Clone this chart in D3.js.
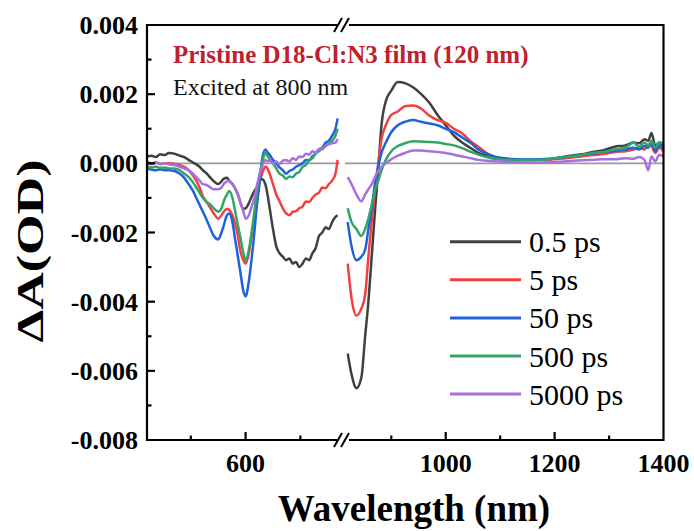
<!DOCTYPE html>
<html><head><meta charset="utf-8">
<script src="https://cdn.jsdelivr.net/npm/d3@7"></script>
<style>body{margin:0;background:#fff}svg{display:block}</style>
</head><body>
<svg id="c" width="694" height="531"></svg>
<script>
// ---- data ----
const seriesNames = ["0.5 ps","5 ps","50 ps","500 ps","5000 ps"];
const seriesColors = ["#404040","#f2403f","#1e63dc","#33a468","#a96fe0"];
const wlLeft = [510,514,518,522,526,530,535,540,544,548,552,555,558,561,564,568,571,575,578,580,583,585,588,590,593,595,598,600,603,605,608,610,613,615,618,620,622,625,628,631,634,637,640,643,646,649,652,655,658,661,664,667,670,673,676,679,682,684];
const s05Left   = [0.0002,0.00022,0.00018,0.00026,0.00024,0.0003,0.00028,0.00022,0.00018,0.0001,0.00002,-0.00003,-0.0001,-0.0002,-0.00028,-0.00042,-0.00052,-0.0006,-0.00052,-0.00045,-0.00042,-0.0005,-0.0006,-0.0007,-0.0009,-0.0011,-0.00132,-0.0013,-0.00115,-0.001,-0.0008,-0.0007,-0.00052,-0.00045,-0.0006,-0.0009,-0.0013,-0.0019,-0.0024,-0.0026,-0.0027,-0.0028,-0.00275,-0.0029,-0.00285,-0.003,-0.0029,-0.00275,-0.0028,-0.0026,-0.00245,-0.0021,-0.002,-0.00185,-0.0019,-0.0017,-0.00155,-0.0015];
const s5Left    = [0.00005,0.0,0.00003,-0.00002,0.0,0.0,-0.00002,-0.00005,-0.0001,-0.0002,-0.00035,-0.0005,-0.0007,-0.00095,-0.0011,-0.0013,-0.00145,-0.0016,-0.0015,-0.0014,-0.00132,-0.00135,-0.0015,-0.0017,-0.0021,-0.0025,-0.0028,-0.0029,-0.0026,-0.0022,-0.0016,-0.0011,-0.0005,-0.0003,-0.0001,-0.00015,-0.0003,-0.0006,-0.0009,-0.0011,-0.0013,-0.00145,-0.0015,-0.0014,-0.00138,-0.0013,-0.00125,-0.0011,-0.00112,-0.001,-0.0009,-0.00085,-0.0007,-0.00072,-0.0006,-0.0005,-0.0003,0.0001];
const s50Left   = [-0.00015,-0.00018,-0.0002,-0.00018,-0.0002,-0.0002,-0.00022,-0.0003,-0.00042,-0.0006,-0.0008,-0.001,-0.0012,-0.0014,-0.0016,-0.0019,-0.0021,-0.0022,-0.002,-0.0018,-0.0015,-0.00145,-0.0017,-0.0021,-0.0027,-0.0031,-0.0037,-0.00385,-0.0034,-0.0029,-0.002,-0.0013,-0.0005,0.0001,0.0004,0.00032,0.00025,0.0001,0.0,-0.00012,-0.0002,-0.0003,-0.00022,-0.00018,-0.0001,-0.00005,0.0,0.0001,0.00008,0.0002,0.00028,0.0004,0.00045,0.0006,0.00065,0.0008,0.001,0.0013];
const s500Left  = [-0.0001,-0.00012,-0.0001,-0.00013,-0.00012,-0.00015,-0.00015,-0.0002,-0.0003,-0.0004,-0.00055,-0.0007,-0.00085,-0.001,-0.0011,-0.0012,-0.0013,-0.0014,-0.0013,-0.0011,-0.0009,-0.0008,-0.001,-0.0013,-0.0018,-0.0021,-0.0026,-0.0028,-0.0025,-0.0021,-0.0014,-0.0009,-0.0003,0.0,0.0003,0.00022,0.0001,0.0,-0.00015,-0.0003,-0.00035,-0.00045,-0.00038,-0.0004,-0.0003,-0.00025,-0.0001,-0.00005,0.0001,0.00015,0.0003,0.00035,0.00045,0.0005,0.0006,0.00065,0.0008,0.001];
const s5000Left = [0.0,-0.00003,0.00002,-0.00002,0.0,-0.00003,-0.00005,-0.0001,-0.00015,-0.0002,-0.0003,-0.0004,-0.0005,-0.0006,-0.00062,-0.0007,-0.00075,-0.00075,-0.0007,-0.0006,-0.00052,-0.0005,-0.0006,-0.0007,-0.0009,-0.0011,-0.0014,-0.0016,-0.0015,-0.0013,-0.001,-0.0007,-0.0003,-0.0001,0.0001,0.00005,0.0001,0.0,0.00005,-0.00002,0.00008,0.0001,0.00005,0.00015,0.0001,0.0002,0.00018,0.00028,0.00025,0.00035,0.0003,0.00042,0.0004,0.0005,0.00055,0.00058,0.0006,0.0007];

const wlRight = [820,827,836,845,852,858,864,870,876,882,890,900,912,925,940,955,970,985,1000,1015,1030,1045,1060,1080,1100,1130,1160,1190,1220,1250,1270,1290,1310,1330,1345,1355,1365,1372,1378,1385,1392,1400];
const s05Right   = [-0.0055,-0.0061,-0.0065,-0.0062,-0.005,-0.004,-0.0027,-0.0014,-0.0002,0.0011,0.0018,0.0021,0.00235,0.00232,0.0022,0.002,0.00175,0.0014,0.0011,0.0008,0.0006,0.00045,0.0003,0.0002,0.00014,0.0001,0.0001,0.00012,0.0002,0.00026,0.00033,0.00038,0.00048,0.00052,0.0006,0.00058,0.0007,0.00065,0.00088,0.0005,0.0006,0.0005];
const s5Right    = [-0.0029,-0.0039,-0.0044,-0.0042,-0.0038,-0.0027,-0.0017,-0.0008,0.0,0.0007,0.0011,0.0014,0.0015,0.00165,0.00167,0.00158,0.00138,0.00125,0.00117,0.001,0.00087,0.00065,0.00048,0.00025,0.00014,0.0001,0.0001,0.00011,0.00015,0.0002,0.00024,0.00027,0.00033,0.00035,0.0004,0.00045,0.0004,0.00055,0.0005,0.0003,0.00045,0.00034];
const s50Right   = [-0.0017,-0.0024,-0.0028,-0.0027,-0.0025,-0.0019,-0.0013,-0.0006,-0.0001,0.0003,0.0006,0.0009,0.0011,0.0012,0.00125,0.0012,0.00115,0.0011,0.001,0.0009,0.00075,0.0006,0.0004,0.00025,0.00016,0.00012,0.00011,0.00013,0.00018,0.00025,0.00028,0.00033,0.00036,0.0004,0.00045,0.0004,0.0005,0.00045,0.0006,0.00035,0.00052,0.00043];
const s500Right  = [-0.0013,-0.0017,-0.0019,-0.0021,-0.0019,-0.0016,-0.0012,-0.0008,-0.0005,-0.0002,0.0001,0.00035,0.0005,0.00058,0.00064,0.00063,0.00062,0.0006,0.00056,0.00052,0.00044,0.00034,0.00025,0.00016,0.00011,0.0001,0.0001,0.00012,0.00018,0.00024,0.0003,0.00033,0.0004,0.00045,0.0006,0.00048,0.0006,0.0005,0.00065,0.00045,0.0006,0.00058];
const s5000Right = [-0.0004,-0.0006,-0.0009,-0.0011,-0.0009,-0.00075,-0.0006,-0.0004,-0.00022,-0.0001,0.0,0.00012,0.00022,0.0003,0.00037,0.00037,0.00035,0.00033,0.0003,0.00025,0.0002,0.00015,0.0001,0.00007,0.00005,0.00003,0.00002,0.00003,0.00006,0.00009,0.0001,0.00012,0.00012,0.00015,0.00013,0.00018,0.0001,-0.0002,0.0002,0.00005,0.00025,0.0002];

const yTickLabels = ["0.004","0.002","0.000","-0.002","-0.004","-0.006","-0.008"];
const xTicksLeft = [600];
const xTicksRight = [1000,1200,1400];

// ---- layout ----
const svg = d3.select("#c");
const L = 147, R = 663.5, T = 25, B = 440;
const xL = d3.scaleLinear().domain([510,688]).range([L,342]);
const xR = d3.scaleLinear().domain([815,1400]).range([345,R]);
const y = d3.scaleLinear().domain([-0.008,0.004]).range([B,T]);
const serif = "'Liberation Serif','Times New Roman',serif";

// zero line
[[xL,510,686],[xR,815,1400]].forEach(([sc,a,b])=>{
  svg.append("line").attr("x1",sc(a)).attr("x2",Math.min(sc(b),R)).attr("y1",y(0)).attr("y2",y(0))
    .attr("stroke","#9a9a9a").attr("stroke-width",1.6);
});

// series
const leftData = [s05Left,s5Left,s50Left,s500Left,s5000Left];
const rightData = [s05Right,s5Right,s50Right,s500Right,s5000Right];
const g = svg.append("g");
seriesNames.forEach((n,i)=>{
  const lineL = d3.line().x(d=>xL(d[0])).y(d=>y(d[1])).curve(d3.curveMonotoneX);
  const lineR = d3.line().x(d=>xR(d[0])).y(d=>y(d[1])).curve(d3.curveMonotoneX);
  g.append("path").attr("d",lineL(wlLeft.map((w,j)=>[w,leftData[i][j]])))
    .attr("fill","none").attr("stroke",seriesColors[i]).attr("stroke-width",2.5).attr("stroke-linejoin","round");
  g.append("path").attr("d",lineR(wlRight.map((w,j)=>[w,rightData[i][j]])))
    .attr("fill","none").attr("stroke",seriesColors[i]).attr("stroke-width",2.5).attr("stroke-linejoin","round");
});

// frame
const ax = svg.append("g").attr("stroke","#000").attr("stroke-width",2.2).attr("fill","none");
ax.append("line").attr("x1",L).attr("x2",L).attr("y1",T-1).attr("y2",B+1);
ax.append("line").attr("x1",R).attr("x2",R).attr("y1",T-1).attr("y2",B+1);
[T,B].forEach(yy=>{
  ax.append("line").attr("x1",L).attr("x2",337).attr("y1",yy).attr("y2",yy);
  ax.append("line").attr("x1",349).attr("x2",R).attr("y1",yy).attr("y2",yy);
  [338,345].forEach(xx=>{
    ax.append("line").attr("x1",xx-4).attr("x2",xx+4).attr("y1",yy+7).attr("y2",yy-7).attr("stroke-width",2);
  });
});

// y axis ticks (inside)
d3.range(-8,5).forEach(k=>{
  const v = k*0.001, major = (k%2===0);
  if (k===-8||k===4) return;
  ax.append("line").attr("x1",L).attr("x2",L+(major?8:4.5)).attr("y1",y(v)).attr("y2",y(v));
});
yTickLabels.forEach(t=>{
  svg.append("text").attr("x",138).attr("y",y(+t)).attr("dy","0.35em").attr("text-anchor","end")
    .attr("font-family",serif).attr("font-weight","bold").attr("font-size",26).text(t);
});

// x ticks
const minorLeft=[550,650], minorRight=[900,1100,1300];
xTicksLeft.forEach(v=>ax.append("line").attr("x1",xL(v)).attr("x2",xL(v)).attr("y1",B).attr("y2",B-8));
minorLeft.forEach(v=>ax.append("line").attr("x1",xL(v)).attr("x2",xL(v)).attr("y1",B).attr("y2",B-4.5));
xTicksRight.filter(v=>v<1400).forEach(v=>ax.append("line").attr("x1",xR(v)).attr("x2",xR(v)).attr("y1",B).attr("y2",B-8));
minorRight.forEach(v=>ax.append("line").attr("x1",xR(v)).attr("x2",xR(v)).attr("y1",B).attr("y2",B-4.5));
const xLabel = (x,t)=>svg.append("text").attr("x",x).attr("y",472).attr("text-anchor","middle")
  .attr("font-family",serif).attr("font-weight","bold").attr("font-size",26).text(t);
xTicksLeft.forEach(v=>xLabel(xL(v),String(v)));
xTicksRight.forEach(v=>xLabel(xR(v),String(v)));

// axis titles
svg.append("text").attr("x",414).attr("y",521).attr("text-anchor","middle")
  .attr("font-family",serif).attr("font-weight","bold").attr("font-size",37).text("Wavelength (nm)");
svg.append("text").attr("transform","translate(43,251) rotate(-90)").attr("text-anchor","middle")
  .attr("font-family",serif).attr("font-weight","bold").attr("font-size",38)
  .attr("textLength",183).attr("lengthAdjust","spacingAndGlyphs").text("ΔA(OD)");

// annotations
svg.append("text").attr("x",173).attr("y",63).attr("font-family",serif).attr("font-weight","bold")
  .attr("font-size",25).attr("fill","#c01f30").text("Pristine D18-Cl:N3 film (120 nm)");
svg.append("text").attr("x",173).attr("y",95).attr("font-family",serif)
  .attr("font-size",24).attr("fill","#111").text("Excited at 800 nm");

// legend
seriesNames.forEach((n,i)=>{
  const yy = 241.7 + i*38.1;
  svg.append("line").attr("x1",450).attr("x2",521).attr("y1",yy).attr("y2",yy)
    .attr("stroke",seriesColors[i]).attr("stroke-width",3);
  svg.append("text").attr("x",529).attr("y",yy).attr("dy","0.35em").attr("font-family",serif)
    .attr("font-size",30).attr("fill","#000").text(n);
});
</script>
</body></html>
